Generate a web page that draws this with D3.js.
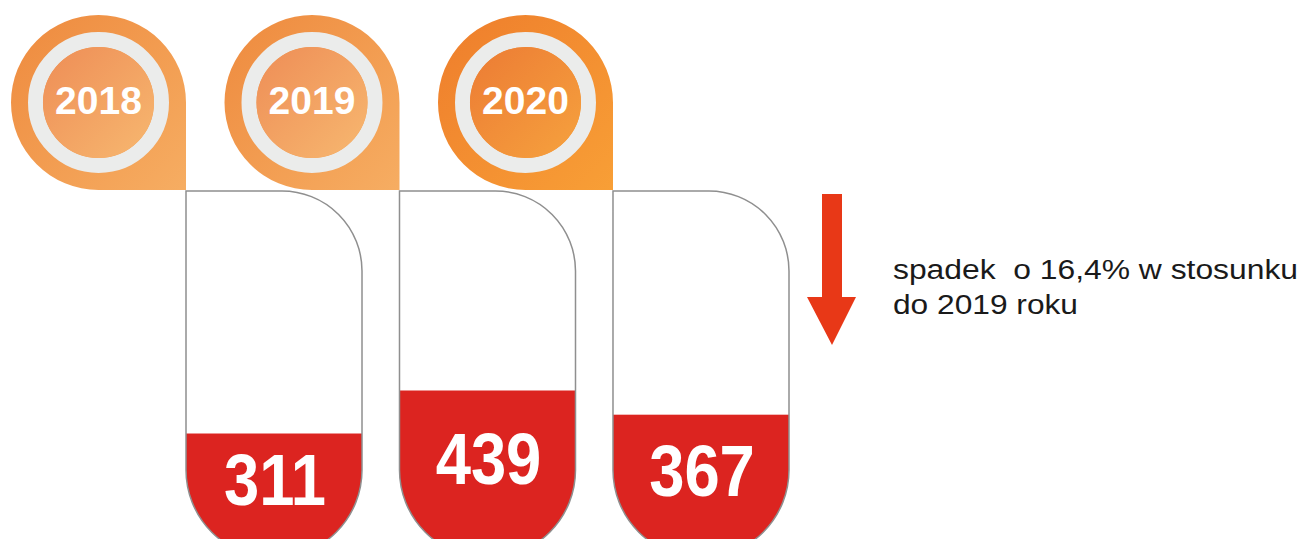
<!DOCTYPE html>
<html>
    <head>
        <meta charset="UTF-8">
        <title>Spadek 2020</title>
        <style>
            body { margin: 0; background: #fff; }
            svg { display: block; }
            text { white-space: pre; }
        </style>
    </head>
    <body>
        <script src="https://d3js.org/d3.v7.min.js"></script>
        <svg></svg>
        <script>
            let years = ["2018", "2019", "2020"];
            let values = [311, 439, 367];
            let noteLines = ["spadek  o 16,4% w stosunku", "do 2019 roku"];

            let width = 1304, height = 539;
            let svg = d3.select("svg")
                .attr("width", width)
                .attr("height", height);

            // capsules sit side by side, the pin of each year hangs on the left
            let xScale = d3.scaleBand()
                .domain(years)
                .range([186, 789])
                .paddingInner(0.1756)
                .paddingOuter(0);
            let w = xScale.bandwidth();
            let yScale = d3.scaleLinear()
                .domain([0, 500])
                .range([538, 370]);

            let capTop = 191, capBottom = 558, topR = 80, R = 87.5;

            let defs = svg.append("defs");
            let pinColors = [
                ["#ee8a3e", "#f6ad62"],
                ["#ee8a3e", "#f6ad62"],
                ["#ee7d2c", "#f89f36"]
            ];
            let innerColors = [
                ["#ee8d56", "#f7b870"],
                ["#ee8d56", "#f7b870"],
                ["#ec7b34", "#f6a23e"]
            ];
            years.forEach((y, i) => {
                let g1 = defs.append("linearGradient")
                    .attr("id", "pin" + i)
                    .attr("x1", 0).attr("y1", 0).attr("x2", 1).attr("y2", 1);
                g1.append("stop").attr("offset", "0%").attr("stop-color", pinColors[i][0]);
                g1.append("stop").attr("offset", "100%").attr("stop-color", pinColors[i][1]);
                let g2 = defs.append("linearGradient")
                    .attr("id", "inner" + i)
                    .attr("x1", 0).attr("y1", 0).attr("x2", 1).attr("y2", 1);
                g2.append("stop").attr("offset", "0%").attr("stop-color", innerColors[i][0]);
                g2.append("stop").attr("offset", "100%").attr("stop-color", innerColors[i][1]);
            });

            function capsulePath(x0) {
                let x1 = x0 + w, r2 = w / 2;
                return "M" + x0 + "," + capTop +
                    "H" + (x1 - topR) +
                    "A" + topR + "," + topR + " 0 0 1 " + x1 + "," + (capTop + topR) +
                    "V" + (capBottom - r2) +
                    "A" + r2 + "," + r2 + " 0 0 1 " + x0 + "," + (capBottom - r2) +
                    "Z";
            }

            function pinPath(cx, cy) {
                return "M" + cx + "," + (cy - R) +
                    "A" + R + "," + R + " 0 0 0 " + (cx - R) + "," + cy +
                    "A" + R + "," + R + " 0 0 0 " + cx + "," + (cy + R) +
                    "H" + (cx + R) +
                    "V" + cy +
                    "A" + R + "," + R + " 0 0 0 " + cx + "," + (cy - R) +
                    "Z";
            }

            let data = years.map((y, i) => ({year: y, value: values[i], i: i}));

            data.forEach(d => {
                defs.append("clipPath")
                    .attr("id", "clip" + d.i)
                    .append("path")
                    .attr("d", capsulePath(xScale(d.year)));
            });

            let items = svg.selectAll("g.item")
                .data(data)
                .enter()
                .append("g")
                .attr("class", "item");

            // pins
            items.append("path")
                .attr("d", d => pinPath(xScale(d.year) - R, capTop - R - 1))
                .attr("fill", d => "url(#pin" + d.i + ")");
            items.append("circle")
                .attr("cx", d => xScale(d.year) - R)
                .attr("cy", capTop - R - 1)
                .attr("r", 63)
                .attr("fill", "none")
                .attr("stroke", "#ebeceb")
                .attr("stroke-width", 15);
            items.append("circle")
                .attr("cx", d => xScale(d.year) - R)
                .attr("cy", capTop - R - 1)
                .attr("r", 55.5)
                .attr("fill", d => "url(#inner" + d.i + ")");
            items.append("text")
                .attr("x", d => xScale(d.year) - R)
                .attr("y", capTop - R - 1 + 11)
                .attr("text-anchor", "middle")
                .attr("font-family", "Liberation Sans, Arial, sans-serif")
                .attr("font-weight", "bold")
                .attr("font-size", 39)
                .attr("fill", "#fff")
                .text(d => d.year);

            // capsules with red level
            items.append("path")
                .attr("d", d => capsulePath(xScale(d.year)))
                .attr("fill", "#fff");
            items.append("rect")
                .attr("clip-path", d => "url(#clip" + d.i + ")")
                .attr("x", d => xScale(d.year))
                .attr("y", d => yScale(d.value))
                .attr("width", w)
                .attr("height", d => capBottom - yScale(d.value) + 5)
                .attr("fill", "#dc2420");
            items.append("path")
                .attr("d", d => capsulePath(xScale(d.year)))
                .attr("fill", "none")
                .attr("stroke", "#8f8f8f")
                .attr("stroke-width", 1.5);
            items.append("text")
                .attr("transform", d => "translate(" + (xScale(d.year) + w / 2 + 1) + "," +
                    ((yScale(d.value) + height) / 2 + 19) + ") scale(0.88,1)")
                .attr("text-anchor", "middle")
                .attr("font-family", "Liberation Sans, Arial, sans-serif")
                .attr("font-weight", "bold")
                .attr("font-size", 72)
                .attr("fill", "#fff")
                .text(d => d.value);

            // arrow
            svg.append("path")
                .attr("d", "M822,194H842V297H856L832,345L807,297H822Z")
                .attr("fill", "#e83817");

            svg.selectAll("text.note")
                .data(noteLines)
                .enter()
                .append("text")
                .attr("class", "note")
                .attr("x", 893)
                .attr("y", (d, i) => 279 + i * 35)
                .attr("font-family", "Liberation Sans, Arial, sans-serif")
                .attr("font-size", 27)
                .attr("textLength", (d, i) => i === 0 ? 405 : 185)
                .attr("lengthAdjust", "spacingAndGlyphs")
                .attr("fill", "#1a1a1a")
                .text(d => d);
        </script>
    </body>
</html>
